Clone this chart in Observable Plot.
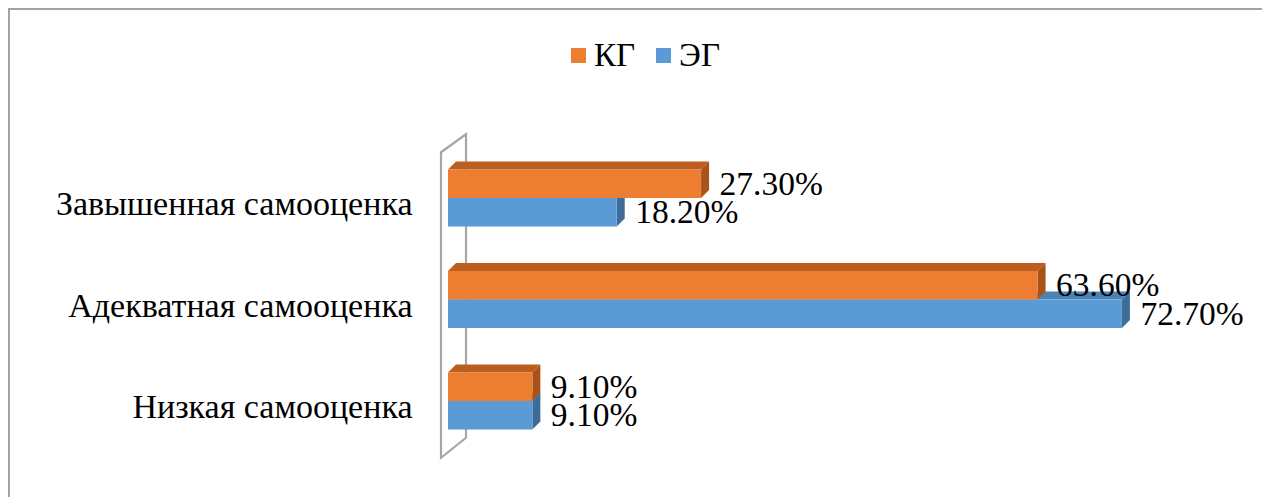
<!DOCTYPE html>
<html><head><meta charset="utf-8">
<script src="https://cdn.jsdelivr.net/npm/d3@7"></script>
<script src="https://cdn.jsdelivr.net/npm/@observablehq/plot@0.6"></script>
<style>
body{margin:0;background:#fff;width:1262px;height:497px;overflow:hidden;position:relative;font-family:"Liberation Serif","Tinos","Times New Roman","Noto Serif","DejaVu Serif",serif;}
#frame{position:absolute;left:8px;top:8px;width:1260px;height:495px;border-top:2px solid #a3a3a3;border-left:2px solid #a3a3a3;}
#chart{position:absolute;left:0;top:0;}
#legend{position:absolute;left:571px;top:37px;}
#legend, #legend *{font-family:"Liberation Serif","Tinos","Times New Roman","Noto Serif","DejaVu Serif",serif !important;font-size:33px !important;color:#000 !important;}
#legend > div, #legend{margin:0 !important;}
#legend span{margin-right:21px !important;}
#legend svg{margin-right:8px !important;}
</style></head><body>
<div id="frame"></div><div id="chart"></div><div id="legend"></div>
<script>
const categories = ["Завышенная самооценка", "Адекватная самооценка", "Низкая самооценка"];
const seriesNames = ["КГ", "ЭГ"];
const kgValues = [27.3, 63.6, 9.1];
const egValues = [18.2, 72.7, 9.1];

const palette = {
  "КГ": {front: "#ED7D31", top: "#BD5E21", side: "#A9531B"},
  "ЭГ": {front: "#5B9BD5", top: "#4B83B9", side: "#3E6C97"}
};
const FONT = "'Liberation Serif', Tinos, 'Times New Roman', 'Noto Serif', 'DejaVu Serif', serif";
const fmt = v => d3.format(".2f")(v) + "%";
const half = 0.281;
const DEPTH = 8;

const kgRows = categories.map((c, i) => ({cat: c, series: "КГ", value: kgValues[i], y1: i + 0.5 - half, y2: i + 0.5}));
const egRows = categories.map((c, i) => ({cat: c, series: "ЭГ", value: egValues[i], y1: i + 0.5, y2: i + 0.5 + half}));
const catRows = categories.map((c, i) => ({cat: c, pos: i + 0.5}));

function faces(rows, col) {
  return (index, scales) => {
    const x = scales.x, y = scales.y;
    const g = d3.create("svg:g");
    for (const r of rows) {
      const x0 = x(0), x1 = x(r.value), yt = y(r.y1), yb = y(r.y2);
      g.append("path").attr("fill", col.top)
        .attr("d", `M${x0},${yt}L${x1},${yt}L${x1 + DEPTH},${yt - DEPTH}L${x0 + DEPTH},${yt - DEPTH}Z`);
      g.append("path").attr("fill", col.side)
        .attr("d", `M${x1},${yt}L${x1},${yb}L${x1 + DEPTH},${yb - DEPTH}L${x1 + DEPTH},${yt - DEPTH}Z`);
    }
    return g.node();
  };
}

function wall(index, scales) {
  const x = scales.x, y = scales.y;
  const x0 = x(0), top = y(0), bottom = y(categories.length);
  const l = x0 - 7, r = x0 + 18;
  return d3.create("svg:path")
    .attr("fill", "none").attr("stroke", "#a6a6a6").attr("stroke-width", 2.2)
    .attr("d", `M${l},${top + 5}L${r},${top - 13}L${r},${bottom - 14}L${l},${bottom + 6}Z`)
    .node();
}

const chart = Plot.plot({
  width: 1262,
  height: 497,
  marginLeft: 448,
  marginRight: 72.4,
  marginTop: 147.25,
  marginBottom: 45.25,
  style: {fontFamily: FONT, background: "transparent", overflow: "visible"},
  x: {domain: [0, 80], axis: null},
  y: {domain: [0, categories.length], reverse: true, axis: null},
  marks: [
    wall,
    faces(egRows, palette["ЭГ"]),
    Plot.rect(egRows, {x1: 0, x2: "value", y1: "y1", y2: "y2", fill: palette["ЭГ"].front}),
    faces(kgRows, palette["КГ"]),
    Plot.rect(kgRows, {x1: 0, x2: "value", y1: "y1", y2: "y2", fill: palette["КГ"].front}),
    Plot.text([...kgRows, ...egRows], {
      x: "value", y: d => (d.y1 + d.y2) / 2, text: d => fmt(d.value),
      textAnchor: "start", dx: 18, fontSize: 33.5, fontFamily: FONT, fill: "#000"
    }),
    Plot.text(catRows, {
      x: 0, y: "pos", text: "cat", textAnchor: "end", dx: -36, dy: 6, fontSize: 34, fontFamily: FONT, fill: "#000"
    })
  ]
});
document.getElementById("chart").appendChild(chart);

const legend = Plot.legend({
  color: {type: "ordinal", domain: seriesNames, range: seriesNames.map(s => palette[s].front)},
  swatchSize: 15
});
document.getElementById("legend").appendChild(legend);
</script>
</body></html>
